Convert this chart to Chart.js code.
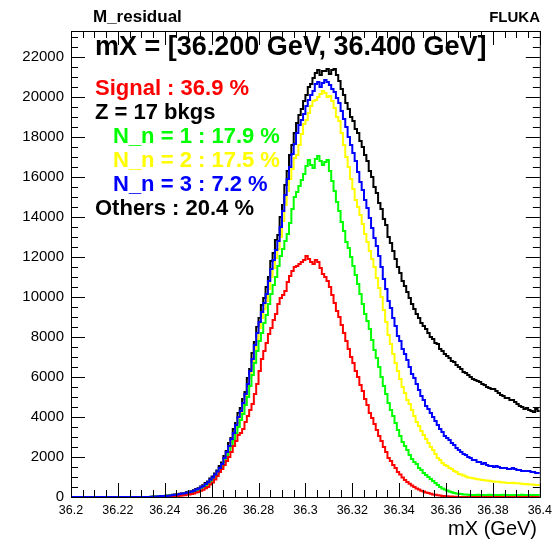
<!DOCTYPE html>
<html>
<head>
<meta charset="utf-8">
<script src="https://cdn.jsdelivr.net/npm/chart.js@4"></script>
<style>
  html, body { margin: 0; padding: 0; background: #fff; }
  #wrap { width: 558px; height: 544px; }
</style>
</head>
<body>
<div id="wrap"><canvas id="c" width="558" height="544"></canvas></div>
<script>
// histogram binning: 200 bins of 1 MeV between 36.2 and 36.4 GeV
const xMin = 36.2;
const xMax = 36.4;
const nBins = 200;
const yMax = 23300;

const xTickValues = [36.2, 36.22, 36.24, 36.26, 36.28, 36.3, 36.32, 36.34, 36.36, 36.38, 36.4];
const xTickLabels = ['36.2', '36.22', '36.24', '36.26', '36.28', '36.3', '36.32', '36.34', '36.36', '36.38', '36.4'];
const yTickValues = [0, 2000, 4000, 6000, 8000, 10000, 12000, 14000, 16000, 18000, 20000, 22000];
const yTickLabels = ['0', '2000', '4000', '6000', '8000', '10000', '12000', '14000', '16000', '18000', '20000', '22000'];

// stacked (cumulative) bin contents, 20 bins per row
const signal = [
  0,0,0,0,0,0,0,0,0,0, 0,0,0,0,0,0,0,0,0,0,
  0,0,0,0,0,0,0,0,0,0, 0,0,0,0,0,0,0,0,5,10,
  15,20,25,35,45,55,60,80,90,110, 125,155,180,220,250,310,360,440,500,620,
  720,880,1050,1250,1400,1600,1800,2000,2250,2550, 2800,3100,3200,3400,3750,4050,4350,4650,5150,5650,
  6300,6900,7300,7700,8150,8450,8850,9150,9650,9950, 10100,10300,10750,11050,11300,11500,11550,11650,11750,11850,
  12050,11900,11750,11650,11850,11750,11450,11150,11000,10800, 10500,10100,9700,9300,9000,8600,8200,7800,7400,7000,
  6700,6300,6000,5600,5300,4900,4600,4200,3950,3650, 3350,3050,2800,2500,2250,1950,1800,1600,1450,1250,
  1120,980,850,750,660,580,500,420,370,310, 270,230,200,160,130,110,90,70,55,45,
  35,25,20,15,10,5,5,0,5,0, 0,5,0,0,0,5,0,0,0,0,
  0,0,5,0,0,0,0,0,0,0, 0,0,0,0,0,0,0,0,0,0
];
const plusNn1 = [
  0,0,0,0,0,0,0,0,0,0, 0,0,0,0,0,0,0,0,0,0,
  0,0,0,0,0,0,0,0,0,0, 0,0,0,0,10,15,20,30,35,45,
  50,60,70,90,95,110,130,150,170,195, 215,250,280,330,370,440,490,570,650,760,
  860,990,1130,1300,1500,1750,1950,2250,2550,2850, 3200,3500,3850,4150,4600,5000,5550,6100,6700,7300,
  7800,8200,8700,9100,9650,10150,10600,11000,11550,12050, 12400,12800,13150,13700,14400,15000,15250,15550,15850,16150,
  16550,16850,16600,16450,16900,17050,16800,16600,16750,16850, 16300,15800,15300,14750,14300,13750,13300,12750,12450,12000,
  11550,11100,10650,10150,9650,9150,8800,8400,7850,7350, 6950,6500,6000,5550,5150,4700,4350,4050,3700,3350,
  3050,2750,2550,2350,2100,1900,1750,1650,1450,1350, 1200,1100,1000,900,800,700,600,500,430,370,
  320,280,240,200,180,160,150,130,125,115, 105,100,95,110,100,90,100,105,110,95,
  100,100,90,100,110,100,95,100,105,100, 90,100,110,100,100,95,100,105,100,100
];
const plusNn2 = [
  0,0,0,0,0,0,0,0,0,0, 0,0,0,0,0,0,0,0,0,0,
  0,0,0,0,0,0,0,0,0,0, 0,0,0,0,15,20,25,35,40,50,
  55,65,75,95,100,120,140,160,180,205, 230,270,300,350,400,470,520,620,700,820,
  930,1070,1220,1400,1600,1850,2150,2450,2750,3050, 3450,3850,4150,4550,4950,5450,6050,6650,7300,7900,
  8450,8950,9400,9800,10400,11000,11450,11950,12400,13000, 13800,14600,15300,15900,16400,16950,17100,17600,18150,18650,
  18850,19200,19550,19800,19850,20000,20150,20300,20200,20000, 20050,19800,19450,19000,18800,18200,17600,17000,16500,15900,
  15400,14850,14500,14100,13650,13150,12750,12300,11900,11500, 10950,10450,10000,9350,8750,8100,7650,7150,6700,6300,
  5900,5500,5200,4850,4650,4350,4050,3750,3550,3300, 3100,2900,2700,2500,2350,2150,1950,1850,1700,1600,
  1550,1450,1400,1300,1250,1150,1130,1080,1030,980, 960,940,910,890,870,850,840,820,810,790,
  770,760,760,740,730,710,700,700,710,690, 690,670,660,640,650,630,630,610,600,600
];
const plusNn3 = [
  0,0,0,0,0,0,0,0,0,0, 0,0,0,0,0,0,0,0,0,0,
  0,0,0,0,0,0,0,0,0,0, 0,0,0,0,15,20,25,35,45,55,
  55,65,80,100,110,130,150,175,190,215, 240,280,310,370,410,490,550,650,740,860,
  980,1120,1270,1450,1650,1950,2250,2550,2900,3200, 3600,4000,4300,4700,5150,5650,6300,6900,7600,8200,
  8750,9250,9700,10150,10800,11400,11850,12350,12800,13500, 14300,15100,15900,16500,17150,17650,18200,18600,18850,19150,
  19550,19850,20100,20300,20650,20750,20500,20700,20850,20750, 20600,20400,20250,19950,19700,19300,18900,18500,18000,17600,
  17200,16800,16250,15750,15350,14850,14450,13950,13450,12950, 12550,12050,11500,10900,10400,9800,9450,8950,8550,8050,
  7800,7400,7150,6850,6500,6150,5950,5650,5350,5050, 4850,4550,4400,4200,4000,3800,3600,3400,3250,3050,
  2950,2850,2700,2600,2450,2350,2250,2150,2100,2000, 1950,1850,1850,1750,1750,1650,1700,1600,1550,1550,
  1500,1550,1500,1450,1450,1450,1400,1400,1450,1400, 1350,1350,1300,1300,1300,1300,1250,1250,1200,1200
];
const total = [
  0,0,0,0,0,0,0,0,0,0, 0,0,0,0,0,0,0,0,0,0,
  0,0,0,0,0,0,0,0,0,0, 0,0,0,0,15,20,25,35,45,55,
  60,80,90,110,120,145,160,185,200,240, 260,300,340,400,440,530,590,700,780,920,
  1030,1180,1320,1550,1720,2050,2300,2700,2950,3400, 3700,4200,4450,4900,5250,5950,6400,7200,7750,8500,
  8950,9600,9950,10500,11000,11800,12200,12850,13100,14000, 14600,15600,16300,17100,17600,18200,18700,19100,19400,19800,
  20100,20500,20650,20950,21200,21350,21100,21300,21300,21400, 21150,21350,21400,21100,20800,20400,20100,19700,19400,19000,
  18800,18400,18200,17800,17500,17100,16800,16300,16000,15500, 15200,14700,14400,13900,13600,13000,12700,12300,11900,11500,
  11200,10800,10550,10250,9950,9650,9400,9150,8950,8700, 8550,8400,8200,8000,7900,7700,7650,7400,7300,7150,
  7050,6950,6800,6750,6600,6500,6400,6250,6200,6100, 6000,5900,5850,5800,5750,5650,5600,5500,5450,5400,
  5400,5300,5200,5100,5050,4950,4950,4850,4850,4750, 4650,4550,4500,4400,4450,4350,4300,4250,4400,4300
];

const titleText = 'M_residual';
const cornerText = 'FLUKA';
const rangeText = 'mX = [36.200 GeV, 36.400 GeV]';
const xTitle = 'mX (GeV)';
const notes = ['Signal : 36.9 %', 'Z = 17 bkgs', 'N_n = 1 : 17.9 %', 'N_n = 2 : 17.5 %', 'N_n = 3 : 7.2 %', 'Others : 20.4 %'];

const FONT = '"Liberation Sans", Arial, Helvetica, sans-serif';
const binW = (xMax - xMin) / nBins;

function toSteps(values) {
  const pts = values.map((v, i) => ({x: xMin + i * binW, y: v}));
  pts.push({x: xMax, y: values[values.length - 1]});
  return pts;
}

function histo(label, values, color) {
  return {
    label: label,
    data: toSteps(values),
    borderColor: color,
    backgroundColor: color,
    borderWidth: 2,
    pointRadius: 0,
    fill: false,
    stepped: 'before',
    tension: 0
  };
}

// ROOT style frame, inward ticks on all four sides, and the text boxes
const rootFrame = {
  id: 'rootFrame',
  afterDraw(chart) {
    const {ctx, chartArea: a, scales: {x, y}} = chart;
    ctx.save();
    ctx.strokeStyle = '#000';
    ctx.lineWidth = 1;
    ctx.strokeRect(a.left + 0.5, a.top + 0.5, a.right - a.left, a.bottom - a.top);
    ctx.beginPath();
    for (let v = 0; v <= yMax; v += 500) {
      const py = Math.round(y.getPixelForValue(v)) + 0.5;
      const len = v % 2000 === 0 ? 14 : 7;
      ctx.moveTo(a.left, py); ctx.lineTo(a.left + len, py);
      ctx.moveTo(a.right, py); ctx.lineTo(a.right - len, py);
    }
    for (let k = 0; k <= 40; k++) {
      const px = Math.round(x.getPixelForValue(xMin + k * 0.005)) + 0.5;
      const len = k % 4 === 0 ? 14 : 7;
      ctx.moveTo(px, a.bottom); ctx.lineTo(px, a.bottom - len);
      ctx.moveTo(px, a.top); ctx.lineTo(px, a.top + len);
    }
    ctx.stroke();

    ctx.fillStyle = '#000';
    ctx.textBaseline = 'alphabetic';
    ctx.textAlign = 'left';
    ctx.font = 'bold 17px ' + FONT;
    ctx.fillText(titleText, 93, 22);
    ctx.textAlign = 'right';
    ctx.font = 'bold 15px ' + FONT;
    ctx.fillText(cornerText, 540, 22);

    ctx.textAlign = 'left';
    ctx.font = 'bold 27px ' + FONT;
    ctx.fillText(rangeText, 95, 55);

    const noteColors = ['#ff0000', '#000000', '#00ff00', '#ffff00', '#0000ff', '#000000'];
    const noteX = [95, 95, 113, 113, 113, 95];
    ctx.font = 'bold 22px ' + FONT;
    notes.forEach((t, i) => {
      ctx.fillStyle = noteColors[i];
      ctx.fillText(t, noteX[i], 95 + i * 24);
    });

    ctx.fillStyle = '#000';
    ctx.textAlign = 'right';
    ctx.font = '20px ' + FONT;
    ctx.fillText(xTitle, 537, 535);
    ctx.restore();
  }
};

new Chart(document.getElementById('c'), {
  type: 'line',
  data: {
    datasets: [
      histo('N_n = 3', plusNn3, '#0000ff'),
      histo('Signal', signal, '#ff0000'),
      histo('N_n = 1', plusNn1, '#00ff00'),
      histo('N_n = 2', plusNn2, '#ffff00'),
      histo('Others', total, '#000000')
    ]
  },
  options: {
    responsive: false,
    animation: false,
    devicePixelRatio: 1,
    layout: {padding: {left: 0, right: 18, top: 31, bottom: 0}},
    plugins: {
      legend: {display: false},
      tooltip: {enabled: false},
      title: {display: false}
    },
    scales: {
      x: {
        type: 'linear',
        min: xMin,
        max: xMax,
        offset: false,
        border: {display: false},
        grid: {display: false, drawTicks: false, tickLength: 0},
        afterBuildTicks: (s) => { s.ticks = xTickValues.map(v => ({value: v})); },
        afterFit: (s) => { s.height = 47; },
        ticks: {
          autoSkip: false,
          maxRotation: 0,
          padding: 6,
          color: '#000',
          font: {family: FONT, size: 12.5},
          callback: (v, i) => xTickLabels[i]
        }
      },
      y: {
        type: 'linear',
        min: 0,
        max: yMax,
        border: {display: false},
        grid: {display: false, drawTicks: false, tickLength: 0},
        afterBuildTicks: (s) => { s.ticks = yTickValues.map(v => ({value: v})); },
        afterFit: (s) => { s.width = 71; },
        ticks: {
          autoSkip: false,
          padding: 7,
          color: '#000',
          font: {family: FONT, size: 15},
          callback: (v, i) => yTickLabels[i]
        }
      }
    }
  },
  plugins: [rootFrame]
});
</script>
</body>
</html>
